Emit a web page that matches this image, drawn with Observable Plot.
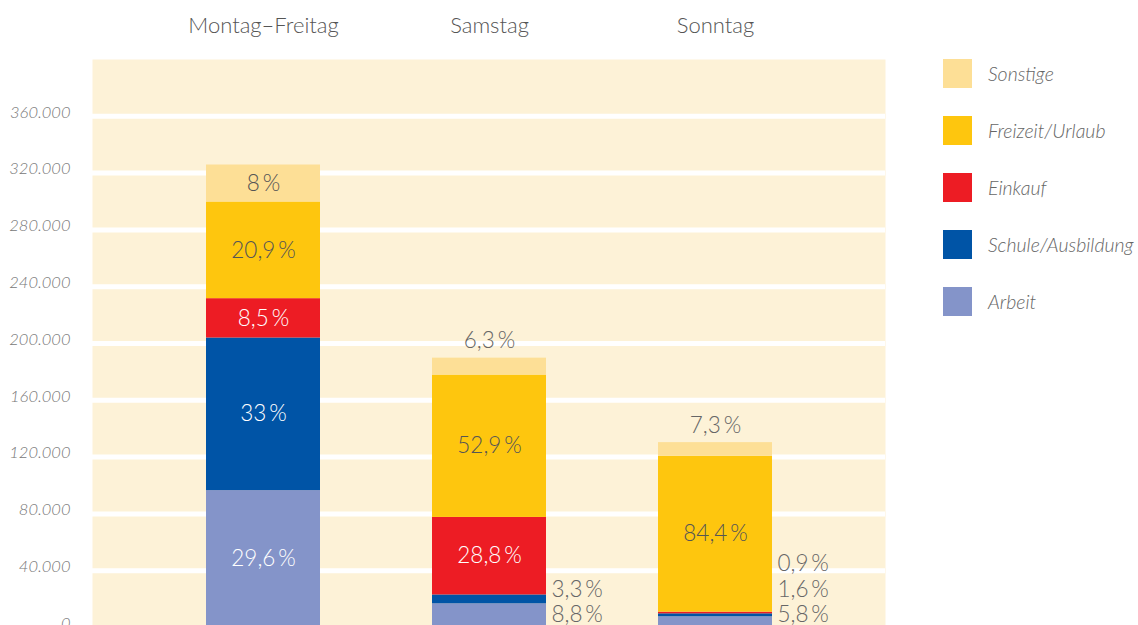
<!DOCTYPE html>
<html><head><meta charset="utf-8">
<script src="https://cdn.jsdelivr.net/npm/d3@7"></script>
<script src="https://cdn.jsdelivr.net/npm/@observablehq/plot@0.6"></script>
<style>
body{margin:0;background:#fff;font-family:Lato,"Open Sans",sans-serif;}
#wrap{position:relative;width:1138px;height:625px;overflow:hidden;}
#legend{position:absolute;left:943px;top:59px;}
.item{display:flex;align-items:center;height:29px;margin-bottom:28px;}
.sw{width:29px;height:29px;margin-right:16px;flex:none;}
.lab{font-style:italic;font-weight:300;font-size:19.5px;color:#666;white-space:nowrap;}
svg{display:block;}
</style></head><body><div id="wrap"><div id="chart"></div><div id="legend"></div></div>
<script>
const days = ["Montag–Freitag", "Samstag", "Sonntag"];
const totals = [325700, 189500, 130200];
const series = ["Arbeit", "Schule/Ausbildung", "Einkauf", "Freizeit/Urlaub", "Sonstige"];
const colors = ["#8494c9", "#0054a6", "#ed1c24", "#fec60e", "#fddf96"];
const pctMoFr = [29.6, 33, 8.5, 20.9, 8];
const pctSa = [8.8, 3.3, 28.8, 52.9, 6.3];
const pctSo = [5.8, 1.6, 0.9, 84.4, 7.3];
const yTicks = [0, 40000, 80000, 120000, 160000, 200000, 240000, 280000, 320000, 360000];
const legendOrder = ["Sonstige", "Freizeit/Urlaub", "Einkauf", "Schule/Ausbildung", "Arbeit"];

const pcts = [pctMoFr, pctSa, pctSo];
const rows = [];
days.forEach((day, i) => {
  let cum = 0, k = 0;
  series.forEach((s, j) => {
    const p = pcts[i][j];
    const v = totals[i] * p / 100;
    const r = {day, series: s, j, pct: p, y1: cum, y2: cum + v, value: v,
      label: String(p).replace(".", ",") + "\u2009%"};
    if (v >= 20000) r.place = "inside";
    else if (j === series.length - 1) r.place = "top";
    else { r.place = "right"; r.k = k++; }
    rows.push(r);
    cum += v;
  });
});
const fmt = d => d3.format(",")(d).replace(/,/g, ".");
const font = "Lato, 'Open Sans', sans-serif";
const lab = {fontSize: 22.5, fontWeight: 300};

const chart = Plot.plot({
  width: 885, height: 627,
  marginTop: 59, marginBottom: 0, marginLeft: 92, marginRight: 0,
  style: {fontFamily: font, background: "transparent", overflow: "visible"},
  x: {domain: days, range: [148.75, 828.25], paddingInner: 0.497, paddingOuter: 0.2485, axis: null},
  y: {domain: [0, 400000], axis: null},
  color: {domain: series, range: colors},
  marks: [
    Plot.frame({fill: "#fdf2d7", stroke: null}),
    Plot.ruleY(yTicks.filter(d => d > 0), {stroke: "white", strokeWidth: 5}),
    Plot.axisY(yTicks, {tickSize: 0, tickPadding: 22, tickFormat: fmt, fontStyle: "italic",
      fontWeight: 300, fontSize: 16.5, color: "#777", dy: -4, label: null}),
    Plot.axisX({anchor: "top", tickSize: 0, tickPadding: 27, fontSize: 22, fontWeight: 300, color: "#555", label: null}),
    Plot.rectY(rows, {x: "day", y1: "y1", y2: "y2", fill: "series"}),
    Plot.text(rows.filter(d => d.place === "inside"), {x: "day", y: d => (d.y1 + d.y2) / 2, text: "label",
      fill: d => d.j < 3 ? "white" : "#555", ...lab}),
    Plot.text(rows.filter(d => d.place === "top"), {x: "day", y: "y2", text: "label", dy: -17,
      fill: "#666", ...lab}),
    ...[0, 1, 2].map(k => Plot.text(rows.filter(d => d.place === "right" && d.k === k), {
      x: "day", y: () => 0, text: "label", dx: 62, dy: -12.5 - 25.5 * k, textAnchor: "start",
      fill: "#666", ...lab}))
  ]
});
document.getElementById("chart").appendChild(chart);

const leg = document.getElementById("legend");
legendOrder.forEach(s => {
  const it = document.createElement("div");
  it.className = "item";
  it.innerHTML = `<div class="sw" style="background:${colors[series.indexOf(s)]}"></div><div class="lab">${s}</div>`;
  leg.appendChild(it);
});
</script></body></html>
